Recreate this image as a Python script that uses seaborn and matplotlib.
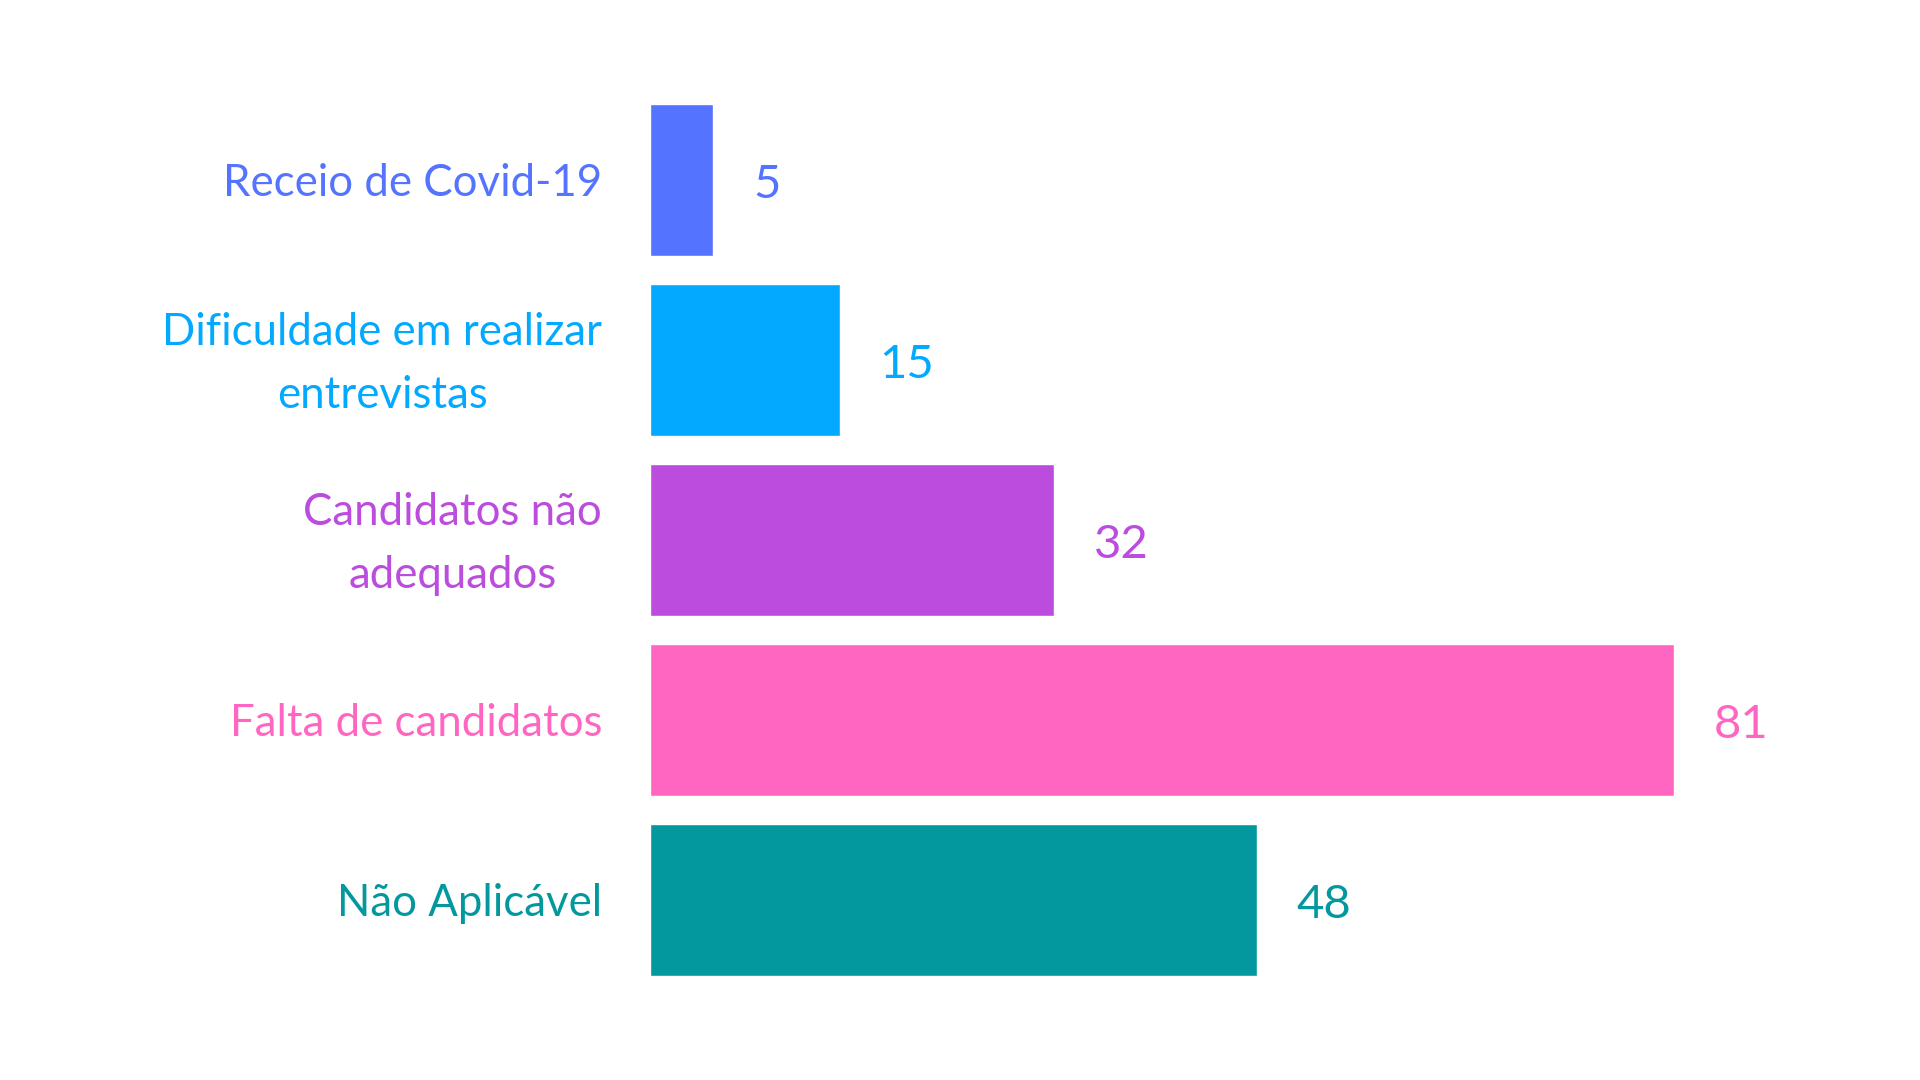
import matplotlib
matplotlib.use("Agg")
import matplotlib.pyplot as plt
import seaborn as sns
import pandas as pd
from matplotlib.transforms import offset_copy

categories = ["Receio de Covid-19", "Dificuldade em realizar\nentrevistas",
              "Candidatos não\nadequados", "Falta de candidatos", "Não Aplicável"]
values = [5, 15, 32, 81, 48]
colors = ["#5473FF", "#02A9FF", "#BB4CDE", "#FF66C2", "#03989D"]

sns.set_theme(style="white")
plt.rcParams['font.family'] = ['Lato', 'DejaVu Sans']

df = pd.DataFrame({"cat": categories, "val": values})

fig = plt.figure(figsize=(19.2, 10.8), dpi=100)
ax = fig.add_axes([650/1920, 1 - 990/1080, 1 - 650/1920, 900/1080])

sns.barplot(data=df, x="val", y="cat", hue="cat", palette=colors, order=categories,
            hue_order=categories, orient="h", width=0.845, legend=False, ax=ax,
            saturation=1)

ax.set_xlim(0, 100.5)
ax.set_ylim(4.5, -0.5)
ax.set_axis_off()

label_tr = offset_copy(ax.get_yaxis_transform(), fig=fig, x=-48, y=-4, units="dots")
val_tr = offset_copy(ax.transData, fig=fig, x=40, y=-5, units="dots")
for i, (c, v, col) in enumerate(zip(categories, values, colors)):
    ax.text(0, i, c, transform=label_tr, ha="right", va="center",
            multialignment="center", fontsize=31.5, color=col, linespacing=1.65)
    ax.text(v, i, str(v), transform=val_tr, ha="left", va="center",
            fontsize=34, color=col)

fig.savefig("out.png", dpi=100, facecolor="white")
